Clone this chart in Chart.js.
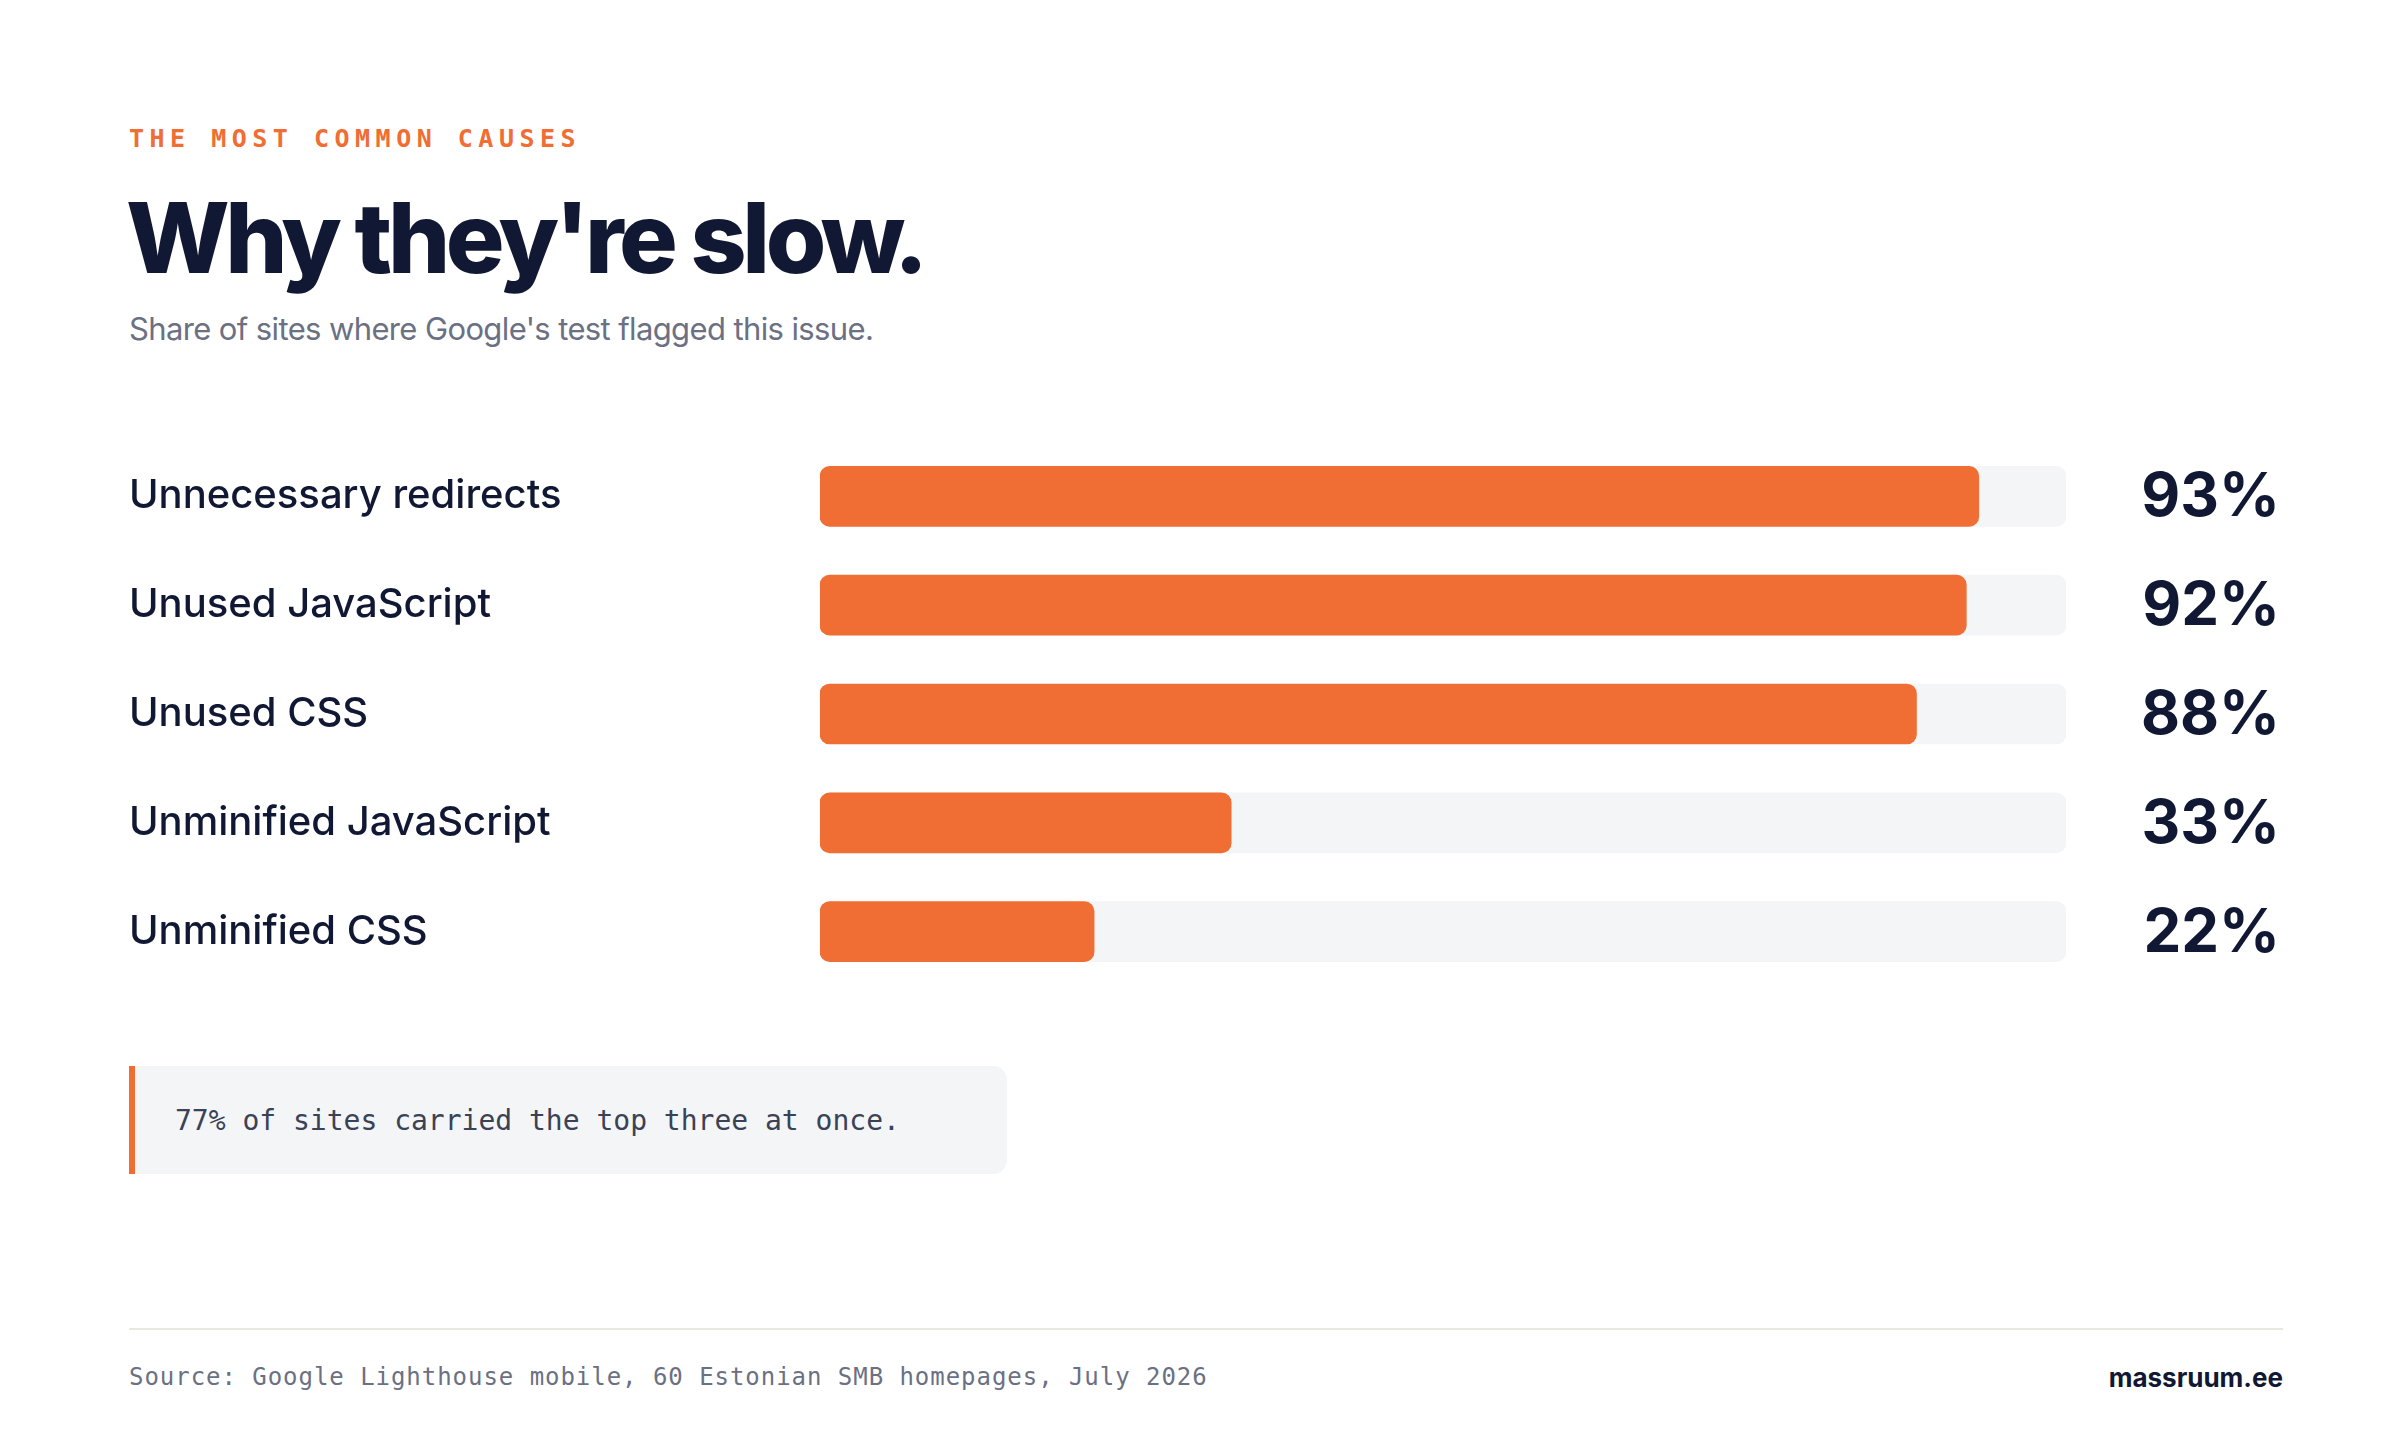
<!DOCTYPE html>
<html><head><meta charset="utf-8">
<script src="https://cdn.jsdelivr.net/npm/chart.js@4"></script>
<style>
html,body{margin:0;padding:0;background:#fff;width:2400px;height:1440px;overflow:hidden;font-family:Inter,sans-serif;}
.abs{position:absolute;}
#eyebrow{left:129px;top:124px;font:bold 25px "DejaVu Sans Mono",monospace;letter-spacing:0.22em;color:#f06d33;}
#title{left:126px;top:178px;font:800 98px Inter;letter-spacing:-0.045em;color:#111833;}
#sub{left:129px;top:310px;font:400 31px Inter;letter-spacing:-0.02em;color:#6b7083;}
#wrap{left:129px;top:418px;width:2151px;height:592px;}
#callout{left:129px;top:1066px;width:878px;height:108px;background:#f4f5f7;border-left:6px solid #f06d33;border-radius:0 14px 14px 0;box-sizing:border-box;}
#callout span{position:absolute;left:40px;top:38px;font:28px "DejaVu Sans Mono",monospace;color:#3a4256;}
#rule{left:129px;top:1328px;width:2154px;height:2px;background:#e8e8df;}
#src{left:129px;top:1363px;font:24px "DejaVu Sans Mono",monospace;color:#6b7083;letter-spacing:0.04em;}
#brand{right:117px;top:1362px;font:bold 26px Inter;color:#111833;}
</style></head><body>
<div id="eyebrow" class="abs">THE MOST COMMON CAUSES</div>
<div id="title" class="abs">Why they're slow.</div>
<div id="sub" class="abs">Share of sites where Google's test flagged this issue.</div>
<div id="wrap" class="abs"><canvas id="c"></canvas></div>
<div id="callout" class="abs"><span>77% of sites carried the top three at once.</span></div>
<div id="rule" class="abs"></div>
<div id="src" class="abs">Source: Google Lighthouse mobile, 60 Estonian SMB homepages, July 2026</div>
<div id="brand" class="abs">massruum.ee</div>
<script>
const categories=["Unnecessary redirects","Unused JavaScript","Unused CSS","Unminified JavaScript","Unminified CSS"];
const values=[93,92,88,33,22];
const trackValues=[100,100,100,100,100];
const valueLabels=values.map(v=>v+"%");
const valuePlugin={id:'vals',afterDatasetsDraw(chart){
  const ctx=chart.ctx, meta=chart.getDatasetMeta(1);
  ctx.save();ctx.font='bold 60px Inter';ctx.fillStyle='#111833';ctx.textAlign='right';ctx.textBaseline='middle';
  meta.data.forEach((b,i)=>ctx.fillText(valueLabels[i],chart.width,b.y+2));
  ctx.restore();}};
new Chart(document.getElementById('c'),{
  type:'bar',
  data:{labels:categories,datasets:[
    {data:trackValues,backgroundColor:'#f4f5f7',order:2,grouped:false,barThickness:60,borderRadius:10,borderSkipped:false},
    {data:values,backgroundColor:'#f06d33',order:1,grouped:false,barThickness:60,borderRadius:10,borderSkipped:false}
  ]},
  options:{indexAxis:'y',responsive:true,maintainAspectRatio:false,animation:false,
    layout:{padding:{right:214,left:0,top:0,bottom:0}},
    plugins:{legend:{display:false},tooltip:{enabled:false}},
    scales:{
      x:{display:false,min:0,max:100},
      y:{grid:{display:false},border:{display:false},
        afterFit(s){s.width=691;},
        ticks:{crossAlign:'far',padding:0,color:'#111833',font:{family:'Inter',size:40,weight:'500'}}}
    }},
  plugins:[valuePlugin]
});
</script>
</body></html>
